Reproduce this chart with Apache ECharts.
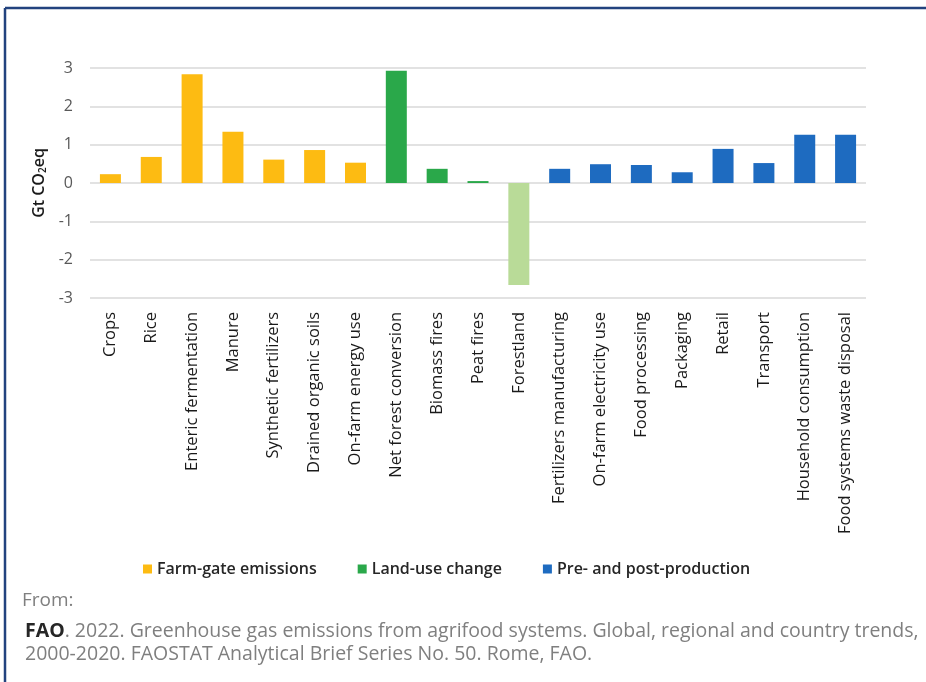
<!DOCTYPE html>
<html>
<head>
<meta charset="utf-8">
<script src="https://cdn.jsdelivr.net/npm/echarts@6/dist/echarts.min.js"></script>
<style>
  html, body { margin: 0; padding: 0; background: #ffffff; }
  #chart { width: 926px; height: 682px; }
</style>
</head>
<body>
<div id="chart"></div>
<script>
// Emission sources (Gt CO2eq), grouped by stage of the agrifood system
const categories = [
  'Crops', 'Rice', 'Enteric fermentation', 'Manure', 'Synthetic fertilizers',
  'Drained organic soils', 'On-farm energy use', 'Net forest conversion',
  'Biomass fires', 'Peat fires', 'Forestland', 'Fertilizers manufacturing',
  'On-farm electricity use', 'Food processing', 'Packaging', 'Retail',
  'Transport', 'Household consumption', 'Food systems waste disposal'
];
const farmGate = [0.23, 0.68, 2.84, 1.34, 0.61, 0.86, 0.53, null, null, null, null, null, null, null, null, null, null, null, null];
const landUse = [null, null, null, null, null, null, null, 2.93, 0.37, 0.05, -2.66, null, null, null, null, null, null, null, null];
const prePost = [null, null, null, null, null, null, null, null, null, null, null, 0.37, 0.49, 0.47, 0.28, 0.89, 0.52, 1.26, 1.26];
const seriesNames = ['Farm-gate emissions', 'Land-use change', 'Pre- and post-production'];
const yTicks = { min: -3, max: 3, step: 1 };

const COLORS = ['#FDBB12', '#2AA84A', '#1E6BC0'];
const SINK_COLOR = '#B9DB98';   // removals (negative) shown lighter
const FONT = '"Open Sans", "Noto Sans", sans-serif';

const chart = echarts.init(document.getElementById('chart'), null, { renderer: 'canvas' });

function withSink(values) {
  return values.map(v => (v !== null && v < 0) ? { value: v, itemStyle: { color: SINK_COLOR } } : v);
}

const option = {
  backgroundColor: '#ffffff',
  animation: false,
  textStyle: { fontFamily: FONT },
  grid: { left: 90, right: 60, top: 68, height: 230, containLabel: false },
  legend: {
    data: seriesNames,
    top: 556,
    left: 138,
    itemWidth: 9,
    itemHeight: 9,
    itemGap: 41,
    icon: 'rect',
    textStyle: { fontFamily: FONT, fontSize: 16, fontWeight: 600, color: '#262626' }
  },
  xAxis: {
    type: 'category',
    data: categories,
    axisLine: { show: false, onZero: false },
    axisTick: { show: false },
    axisLabel: {
      interval: 0,
      rotate: 90,
      margin: 14,
      fontSize: 16.5,
      color: '#1a1a1a',
      fontFamily: FONT
    }
  },
  yAxis: {
    type: 'value',
    min: yTicks.min,
    max: yTicks.max,
    interval: yTicks.step,
    name: '{a|Gt CO}{b|2}{a|eq}',
    nameLocation: 'middle',
    nameGap: 42,
    nameRotate: 90,
    nameTextStyle: {
      rich: {
        a: { fontFamily: FONT, fontSize: 16, fontWeight: 600, color: '#1a1a1a' },
        b: { fontFamily: FONT, fontSize: 10, fontWeight: 600, color: '#1a1a1a', verticalAlign: 'bottom', padding: [7, 0, 0, 0] }
      }
    },
    axisLine: { show: false },
    axisTick: { show: false },
    axisLabel: { margin: 17, fontSize: 16, color: '#595959', fontFamily: FONT },
    splitLine: { lineStyle: { color: '#D9D9D9', width: 1.5 } }
  },
  series: [
    { name: seriesNames[0], type: 'bar', stack: 'all', data: farmGate, barWidth: 21, itemStyle: { color: COLORS[0] } },
    { name: seriesNames[1], type: 'bar', stack: 'all', data: withSink(landUse), barWidth: 21, itemStyle: { color: COLORS[1] } },
    { name: seriesNames[2], type: 'bar', stack: 'all', data: prePost, barWidth: 21, itemStyle: { color: COLORS[2] } }
  ],
  graphic: [
    // frame: top and left rules
    { type: 'line', shape: { x1: 5, y1: 8, x2: 926, y2: 8 }, style: { stroke: '#22427E', lineWidth: 2.5 } },
    { type: 'line', shape: { x1: 5, y1: 8, x2: 5, y2: 682 }, style: { stroke: '#22427E', lineWidth: 2.5 } },
    {
      type: 'text', left: 22, top: 591,
      style: { text: 'From:', fontFamily: FONT, fontSize: 19, fill: '#7F7F7F' }
    },
    {
      type: 'text', left: 25, top: 620,
      style: {
        text: '{b|FAO}. 2022. Greenhouse gas emissions from agrifood systems. Global, regional and country trends,\n2000-2020. FAOSTAT Analytical Brief Series No. 50. Rome, FAO.',
        fontFamily: FONT, fontSize: 19.5, fill: '#7F7F7F', lineHeight: 23,
        rich: { b: { fontFamily: FONT, fontSize: 19.5, fontWeight: 700, fill: '#262626', lineHeight: 23 } }
      }
    }
  ]
};

chart.setOption(option);
</script>
</body>
</html>
